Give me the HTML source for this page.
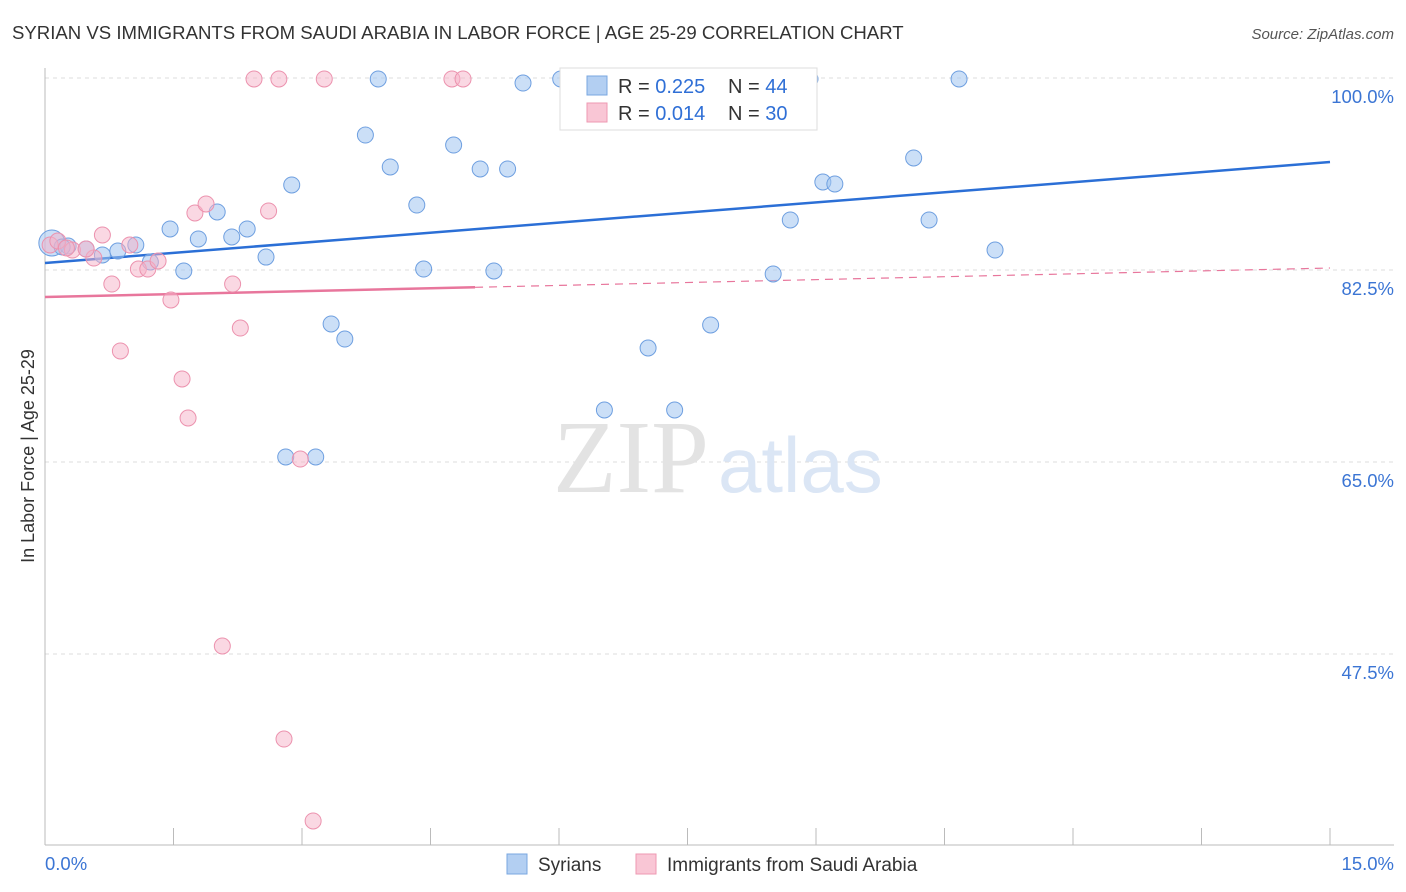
<!DOCTYPE html>
<html><head><meta charset="utf-8">
<style>
body{margin:0;background:#fff;font-family:"Liberation Sans",sans-serif;}
#wrap{position:relative;width:1406px;height:892px;overflow:hidden;}
</style></head>
<body>
<div id="wrap">
<svg id="chart" width="1406" height="892" xmlns="http://www.w3.org/2000/svg">
<text x="12" y="39" font-size="18.6" fill="#333">SYRIAN VS IMMIGRANTS FROM SAUDI ARABIA IN LABOR FORCE | AGE 25-29 CORRELATION CHART</text>
<text x="1394" y="39" font-size="15" fill="#555" font-style="italic" text-anchor="end">Source: ZipAtlas.com</text>
<text transform="translate(34,456) rotate(-90)" font-size="18" fill="#333" text-anchor="middle">In Labor Force | Age 25-29</text>
<g id="grid"></g>
<g id="axes"></g>
<text x="553" y="492" font-size="104" fill="#e3e3e3" font-family="Liberation Serif,serif">ZIP</text>
<text x="718" y="492" font-size="78" fill="#dbe6f5">atlas</text>
<g id="lines"></g>
<g id="points"></g>
<g>
<rect x="560" y="68" width="257" height="62" fill="#fff" stroke="#ddd"/>
<rect x="587" y="76" width="20" height="19" fill="#b3cff2" stroke="#7aa7e0"/>
<text x="618" y="93" font-size="20" fill="#333">R = <tspan fill="#2f6fd6">0.225</tspan></text>
<text x="728" y="93" font-size="20" fill="#333">N = <tspan fill="#2f6fd6">44</tspan></text>
<rect x="587" y="103" width="20" height="19" fill="#f9c6d5" stroke="#ee98b2"/>
<text x="618" y="120" font-size="20" fill="#333">R = <tspan fill="#2f6fd6">0.014</tspan></text>
<text x="728" y="120" font-size="20" fill="#333">N = <tspan fill="#2f6fd6">30</tspan></text>
</g>
<g>
<rect x="507" y="854" width="20" height="20" fill="#b3cff2" stroke="#7aa7e0"/>
<text x="538" y="871" font-size="19" fill="#333">Syrians</text>
<rect x="636" y="854" width="20" height="20" fill="#f9c6d5" stroke="#ee98b2"/>
<text x="667" y="871" font-size="19" fill="#333">Immigrants from Saudi Arabia</text>
</g>
<text x="45" y="870" font-size="18.5" fill="#3b75d4">0.0%</text>
<text x="1394" y="870" font-size="18.5" fill="#3b75d4" text-anchor="end">15.0%</text>
</svg>
</div>
<script>
const yTicks=[100,82.5,65,47.5];
const yTickLabels=["100.0%","82.5%","65.0%","47.5%"];
const xTicks=[0,1.5,3,4.5,6,7.5,9,10.5,12,13.5,15];
const syrX=[0.08,0.27,0.48,0.67,0.85,1.06,1.23,1.46,1.62,1.79,2.01,2.18,2.36,2.58,2.88,3.34,3.50,3.74,3.89,4.03,4.34,4.42,4.77,5.08,5.24,5.40,5.58,6.02,6.53,7.04,7.35,7.77,8.50,8.70,8.93,9.08,9.22,10.14,10.32,10.67,11.09,2.81,3.16,0.20];
const syrY=[84.96,84.69,84.41,83.87,84.23,84.78,83.23,86.24,82.41,85.33,87.79,85.51,86.24,83.68,90.25,77.58,76.21,94.80,99.91,91.89,88.42,82.59,93.89,91.71,82.41,91.71,99.54,99.91,69.74,75.39,69.74,77.49,82.14,87.06,99.91,90.52,90.34,92.71,87.06,99.91,84.32,65.46,65.46,84.60];
const sauX=[0.06,0.15,0.32,0.57,0.67,0.78,0.88,0.99,1.09,1.20,1.32,1.47,1.60,1.67,1.75,1.88,2.07,2.19,2.28,2.44,2.61,2.73,2.79,2.98,3.13,3.26,4.75,4.88,0.48,0.25];
const sauY=[84.78,85.14,84.32,83.59,85.69,81.22,75.12,84.78,82.59,82.59,83.32,79.77,72.57,69.01,87.70,88.52,48.23,81.22,77.21,99.91,87.88,99.91,39.75,65.27,32.28,99.91,99.91,99.91,84.41,84.51];
const syrTrend=[83.14,92.34];
const sauTrend=[80.04,82.68];
const sauSolidEnd=5.02;

const X0=45,X1=1330,Y100=78,PX_PER=192/17.5;
const xs=v=>X0+(v/15)*(X1-X0);
const ys=v=>Y100+(100-v)*PX_PER;
const NS="http://www.w3.org/2000/svg";
function mk(tag,attrs,parent){const e=document.createElementNS(NS,tag);for(const k in attrs)e.setAttribute(k,attrs[k]);parent.appendChild(e);return e;}
const grid=document.getElementById('grid'),axes=document.getElementById('axes'),lines=document.getElementById('lines'),pts=document.getElementById('points');
yTicks.forEach((t,i)=>{
 const l=mk('line',{x1:X0,x2:1394,y1:ys(t),y2:ys(t),stroke:'#ddd','stroke-dasharray':'4,4'},grid);
 
 
 const tx=mk('text',{x:1394,y:ys(t)+25,'font-size':18.5,fill:'#3b75d4','text-anchor':'end'},grid);
 tx.textContent=yTickLabels[i];
 
 
});
mk('line',{x1:X0,x2:X0,y1:68,y2:845,stroke:'#bbb'},axes);
mk('line',{x1:X0,x2:1394,y1:845,y2:845,stroke:'#bbb'},axes);
xTicks.forEach(t=>{
 const l=mk('line',{x1:xs(t),x2:xs(t),y1:828,y2:845,stroke:'#bbb'},axes);
 
 
});
const bl=mk('line',{x1:xs(0),y1:ys(syrTrend[0]),x2:xs(15),y2:ys(syrTrend[1]),stroke:'#2b6fd6','stroke-width':2.5},lines);


const sy=v=>sauTrend[0]+(sauTrend[1]-sauTrend[0])*v/15;
const pl=mk('line',{x1:xs(0),y1:ys(sy(0)),x2:xs(sauSolidEnd),y2:ys(sy(sauSolidEnd)),stroke:'#e8769c','stroke-width':2.5},lines);


const pd=mk('line',{x1:xs(sauSolidEnd),y1:ys(sy(sauSolidEnd)),x2:xs(15),y2:ys(sy(15)),stroke:'#e8769c','stroke-width':1.2,'stroke-dasharray':'8,6'},lines);


syrX.forEach((x,i)=>{
 const c=mk('circle',{cx:xs(x),cy:ys(syrY[i]),r:i===0?13:8,fill:'rgba(160,196,240,0.55)',stroke:'#6e9fe0','stroke-width':1},pts);
 
 
});
sauX.forEach((x,i)=>{
 const c=mk('circle',{cx:xs(x),cy:ys(sauY[i]),r:8,fill:'rgba(246,178,200,0.5)',stroke:'#ec92ae','stroke-width':1},pts);
 
 
});
</script>
</body></html>
